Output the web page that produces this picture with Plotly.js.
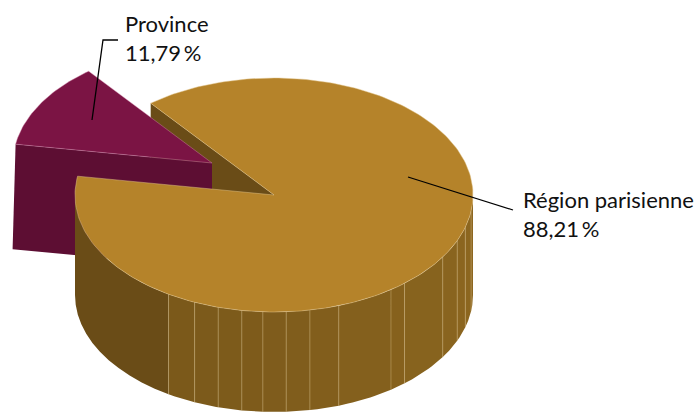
<!DOCTYPE html>
<html><head><meta charset="utf-8">
<script src="https://cdn.plot.ly/plotly-3.0.1.min.js"></script>
<style>html,body{margin:0;padding:0;background:#fff}#chart{width:695px;height:412px}</style>
</head><body><div id="chart"></div>
<script>
// ---- data ----
const categories = ["Région parisienne", "Province"];
const values = [88.21, 11.79];

// ---- style / geometry ----
const W = 695, H = 412;
const CX = 274, CY = 195, RX = 199, RY = 117, DEPTH = 100, PDEPTH = 105;
const START = 128.3;               // angle (deg, counter-clockwise) where the Province slice begins
const PULL = {dx: -62, dy: -32};   // explode offset of Province slice
const FACETS = [180, 238, 246.5, 253.7, 260.7, 266.8, 273.5, 280.4, 289, 306, 311, 328, 337, 344, 352, 360];
const COLORS = {
  bigTop: '#b5832a', bigCut: '#6a4c17', sideDark: '#6a4c17',
  provTop: '#7b1444', provCut: '#5d0e33', facetLine: 'rgba(214,185,125,0.7)'
};

const total = values.reduce((a, b) => a + b, 0);
const spanProv = 360 * values[1] / total;
const provA = START, provB = START + spanProv;
const bigA = provB, bigB = START + 360;

const rad = d => d * Math.PI / 180;
function pt(th, dx, dy, z) {
  return [CX + dx + RX * Math.cos(rad(th)), CY + dy - RY * Math.sin(rad(th)) + z];
}
function arc(a, b, dx, dy, z, n) {
  const xs = [], ys = [];
  for (let i = 0; i <= n; i++) {
    const p = pt(a + (b - a) * i / n, dx, dy, z);
    xs.push(p[0]); ys.push(p[1]);
  }
  return [xs, ys];
}
function poly(xs, ys, fill, lineColor, lw) {
  return {type: 'scatter', mode: 'lines', x: xs, y: ys, fill: 'toself', fillcolor: fill,
    line: {color: lineColor || fill, width: lw === undefined ? 0 : lw}, hoverinfo: 'skip'};
}
function mix(c1, c2, t) {
  const h = c => [1, 3, 5].map(i => parseInt(c.substr(i, 2), 16));
  const a = h(c1), b = h(c2);
  return 'rgb(' + a.map((v, i) => Math.round(v + (b[i] - v) * t)).join(',') + ')';
}

const traces = [];

// Big slice cut face (edge at START)
{
  const e = pt(START, 0, 0, 0), eb = pt(START, 0, 0, DEPTH);
  traces.push(poly([CX, e[0], eb[0], CX, CX], [CY, e[1], eb[1], CY + DEPTH, CY], COLORS.bigCut));
}
// Province cut face (edge at provB)
{
  const c = [CX + PULL.dx, CY + PULL.dy];
  const e = pt(provB, PULL.dx, PULL.dy, 0), eb = pt(provB, PULL.dx, PULL.dy, PDEPTH);
  traces.push(poly([c[0], e[0], eb[0] - 3, c[0], c[0]], [c[1], e[1], eb[1], c[1] + PDEPTH, c[1]], COLORS.provCut));
}
// Province top
{
  const c = [CX + PULL.dx, CY + PULL.dy];
  const [ax, ay] = arc(provA, provB, PULL.dx, PULL.dy, 0, 40);
  traces.push(poly([c[0], ...ax, c[0]], [c[1], ...ay, c[1]], COLORS.provTop, 'rgba(215,140,175,0.7)', 0.6));
}
// Big slice side strips (visible front half)
const lx = [], ly = [];
for (let i = 0; i < FACETS.length - 1; i++) {
  const a = FACETS[i], b = FACETS[i + 1];
  const [tx, ty] = arc(a, b, 0, 0, 0, 12);
  const [bx, by] = arc(b, a, 0, 0, DEPTH, 12);
  let col;
  if (i === 0) col = COLORS.sideDark;
  else col = mix('#7a581a', '#8e6820', ((a + b) / 2 - 238) / 122);
  traces.push(poly([...tx, ...bx, tx[0]], [...ty, ...by, ty[0]], col));
  if (i > 0) {
    const p = pt(a, 0, 0, 0), q = pt(a, 0, 0, DEPTH);
    lx.push(p[0], q[0], null); ly.push(p[1], q[1], null);
  }
}
traces.push({type: 'scatter', mode: 'lines', x: lx, y: ly, line: {color: COLORS.facetLine, width: 0.6}, hoverinfo: 'skip'});
// Big slice top
{
  const [ax, ay] = arc(bigA, bigB, 0, 0, 0, 240);
  traces.push(poly([CX, ...ax, CX], [CY, ...ay, CY], COLORS.bigTop, 'rgba(226,196,140,0.8)', 0.6));
}

const fmt = v => v.toFixed(2).replace('.', ',') + '\u2009%';
const font = {family: 'Lato, "Open Sans", sans-serif', size: 22, color: '#111'};

const layout = {
  width: W, height: H, margin: {l: 0, r: 0, t: 0, b: 0},
  paper_bgcolor: '#fff', plot_bgcolor: '#fff', showlegend: false,
  xaxis: {range: [0, W], visible: false, fixedrange: true},
  yaxis: {range: [H, 0], visible: false, fixedrange: true},
  shapes: [
    {type: 'path', path: 'M92,120 L103,40 L118,40', line: {color: '#000', width: 1.3}},
    {type: 'path', path: 'M408,177 L513,210', line: {color: '#000', width: 1.3}}
  ],
  annotations: [
    {x: 123, y: 8, xanchor: 'left', yanchor: 'top', align: 'left', showarrow: false,
     text: categories[1] + '<br>' + fmt(values[1]), font: font},
    {x: 521, y: 184, xanchor: 'left', yanchor: 'top', align: 'left', showarrow: false,
     text: categories[0] + '<br>' + fmt(values[0]), font: font}
  ]
};
Plotly.newPlot('chart', traces, layout, {staticPlot: true, displayModeBar: false});
</script></body></html>
